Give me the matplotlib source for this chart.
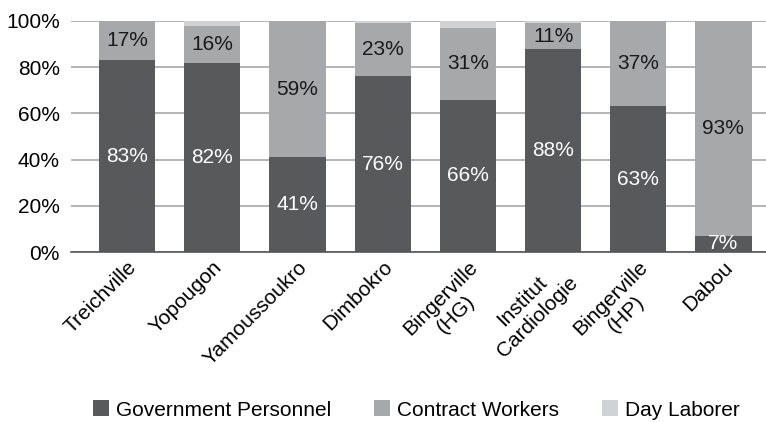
import matplotlib.pyplot as plt
import numpy as np

plt.rcParams['font.family'] = ['Liberation Sans', 'DejaVu Sans']

sites = ['Treichville', 'Yopougon', 'Yamoussoukro', 'Dimbokro',
         'Bingerville\n(HG)', 'Institut\nCardiologie', 'Bingerville\n(HP)', 'Dabou']
government = [83, 82, 41, 76, 66, 88, 63, 7]
contract = [17, 16, 59, 23, 31, 11, 37, 93]
day_laborer = [0, 2, 0, 1, 3, 1, 0, 0]

c_gov = '#58595b'
c_con = '#a7a8aa'
c_day = '#d1d2d4'
FS = 15


def main():
    fig = plt.figure(figsize=(7.66, 4.22), dpi=100)
    ax = fig.add_axes([71 / 766, 1 - 252 / 422, 695 / 766, 231 / 422])

    x = np.arange(len(sites))
    gov = np.array(government)
    con = np.array(contract)
    day = np.array(day_laborer)
    w = 0.66

    b1 = ax.bar(x, gov, w, color=c_gov, label='Government Personnel', zorder=2)
    b2 = ax.bar(x, con, w, bottom=gov, color=c_con, label='Contract Workers', zorder=2)
    b3 = ax.bar(x, day, w, bottom=gov + con, color=c_day, label='Day Laborer', zorder=2)

    for i in range(len(sites)):
        ax.text(x[i], gov[i] / 2, f'{gov[i]}%', ha='center', va='center',
                color='white', fontsize=FS, zorder=3)
        ax.text(x[i], gov[i] + con[i] / 2, f'{con[i]}%', ha='center', va='center',
                color='#1a1a1a', fontsize=FS, zorder=3)

    ax.set_xlim(-0.66, 7.5)
    ax.set_ylim(0, 100)
    ax.set_yticks(range(0, 101, 20))
    ax.set_yticklabels([f'{v}%' for v in range(0, 101, 20)], fontsize=FS)
    ax.yaxis.grid(True, color='#a8a8a8', linewidth=1.2, zorder=0)
    ax.tick_params(axis='y', length=0, pad=8)
    ax.tick_params(axis='x', length=0, pad=4)

    ax.set_xticks(x)
    ax.set_xticklabels(sites, rotation=45, ha='right', rotation_mode='anchor',
                       fontsize=FS, multialignment='center')

    for s in ['top', 'right', 'left']:
        ax.spines[s].set_visible(False)
    ax.spines['bottom'].set_color('#555555')
    ax.spines['bottom'].set_linewidth(1.2)

    fig.legend(handles=[b1, b2, b3], loc='center', bbox_to_anchor=(416 / 766, 1 - 410 / 422),
               ncol=3, frameon=False, fontsize=FS, handlelength=0.77, handleheight=0.77,
               handletextpad=0.34, columnspacing=2.05, borderpad=0, borderaxespad=0)

    fig.savefig('out.png', dpi=100)


if __name__ == "__main__":
    main()
